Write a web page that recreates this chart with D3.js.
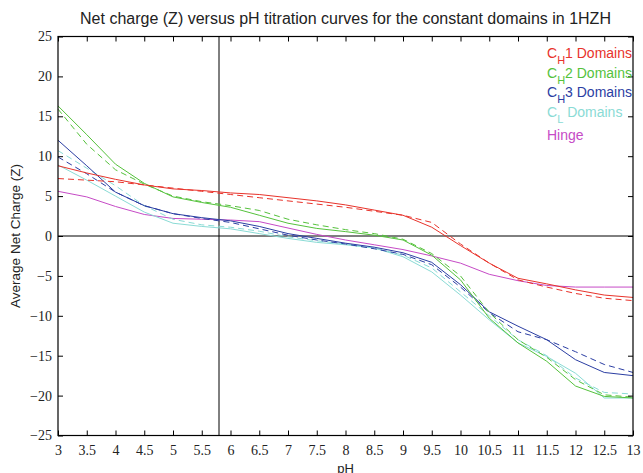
<!DOCTYPE html>
<html>
<head>
<meta charset="utf-8">
<script src="https://cdnjs.cloudflare.com/ajax/libs/d3/7.8.5/d3.min.js"></script>
<style>
body { margin: 0; background: #fff; }
</style>
</head>
<body>
<div id="graph"></div>
<script>
// pH values the titration was sampled at
var pH = [3, 3.5, 4, 4.5, 5, 5.5, 6, 6.5, 7, 7.5, 8, 8.5, 9, 9.5, 10, 10.5, 11, 11.5, 12, 12.5, 13];

// net charge, solid = first copy, dashed = second copy
var ch1 = [8.8, 7.9, 7.1, 6.4, 5.9, 5.7, 5.4, 5.2, 4.8, 4.4, 3.9, 3.25, 2.6, 1.1, -1.2, -3.4, -5.3, -6.0, -6.75, -7.4, -7.7];
var ch1b = [7.2, 7.0, 6.8, 6.4, 6.0, 5.6, 5.2, 4.8, 4.4, 4.0, 3.6, 3.1, 2.6, 1.7, -1.0, -3.4, -5.5, -6.4, -7.2, -7.8, -8.1];
var ch2 = [16.3, 12.7, 9.0, 6.6, 4.9, 4.2, 3.6, 2.6, 1.6, 0.95, 0.55, 0.1, -0.5, -2.4, -5.5, -10.3, -13.4, -15.7, -18.8, -20.1, -20.3];
var ch2b = [15.9, 11.5, 8.3, 6.5, 5.0, 4.3, 3.8, 3.2, 2.1, 1.4, 0.8, 0.3, -0.4, -2.2, -5.0, -9.6, -13.0, -15.2, -18.0, -19.9, -20.2];
var ch3 = [12.0, 8.8, 5.5, 3.8, 2.8, 2.3, 1.9, 1.2, 0.3, -0.3, -0.9, -1.4, -2.1, -3.3, -6.1, -9.5, -11.3, -13.0, -15.5, -17.1, -17.5];
var ch3b = [9.9, 7.8, 5.5, 3.8, 2.8, 2.2, 1.7, 0.9, 0.1, -0.5, -1.0, -1.6, -2.3, -3.6, -6.4, -9.6, -12.0, -13.0, -14.5, -16.1, -17.1];
var cl = [8.9, 7.0, 5.0, 3.0, 1.6, 1.2, 0.9, 0.3, -0.3, -0.8, -1.1, -1.5, -2.6, -4.5, -7.4, -10.5, -13.4, -15.1, -17.2, -20.3, -20.3];
var clb = [10.7, 8.5, 6.3, 3.8, 2.1, 1.4, 1.1, 0.6, -0.1, -0.6, -1.0, -1.5, -2.4, -4.0, -7.0, -10.0, -13.0, -15.0, -17.8, -19.6, -19.8];
var hinge = [5.6, 4.9, 3.7, 2.7, 2.2, 2.1, 2.0, 1.8, 1.0, 0.2, -0.5, -1.1, -1.7, -2.5, -3.4, -4.8, -5.6, -6.2, -6.4, -6.4, -6.4];

var xTicks = [3, 3.5, 4, 4.5, 5, 5.5, 6, 6.5, 7, 7.5, 8, 8.5, 9, 9.5, 10, 10.5, 11, 11.5, 12, 12.5, 13];
var yTicks = [-25, -20, -15, -10, -5, 0, 5, 10, 15, 20, 25];
var pI = 5.8;

// legend entries: main text, subscript, trailing text
var legendMain = ['C', 'C', 'C', 'C', 'Hinge'];
var legendSub = ['H', 'H', 'H', 'L', ''];
var legendRest = ['1 Domains', '2 Domains', '3 Domains', ' Domains', ''];

var red = '#e8332b', green = '#55c23c', blue = '#2b3ea3', cyan = '#8adbd5', magenta = '#c64bc6';
var legendColors = [red, green, blue, cyan, magenta];

var width = 643;
var height = 473;

var series = [
    {v: hinge, c: magenta, dash: null},
    {v: clb, c: cyan, dash: '6,4'},
    {v: cl, c: cyan, dash: null},
    {v: ch3b, c: blue, dash: '6,4'},
    {v: ch3, c: blue, dash: null},
    {v: ch2b, c: green, dash: '6,4'},
    {v: ch2, c: green, dash: null},
    {v: ch1b, c: red, dash: '6,4'},
    {v: ch1, c: red, dash: null}
];

var svg = d3.select('#graph')
    .append('svg')
    .attr('width', width)
    .attr('height', height);

// note: "top" is taken by window.top, so the plot edges get their own names
var plotLeft = 58, plotRight = 633, plotTop = 36.5, plotBottom = 435.5;

var xScale = d3.scaleLinear().domain([3, 13]).range([plotLeft, plotRight]);
var yScale = d3.scaleLinear().domain([-25, 25]).range([plotBottom, plotTop]);

var serif = '"Liberation Serif", "Times New Roman", serif';
var sans = '"Liberation Sans", Arial, Helvetica, sans-serif';

// zero line and the pI marker
svg.append('line')
    .attr('x1', plotLeft).attr('x2', plotRight)
    .attr('y1', yScale(0)).attr('y2', yScale(0))
    .attr('stroke', '#000').attr('stroke-width', 1);
svg.append('line')
    .attr('x1', xScale(pI)).attr('x2', xScale(pI))
    .attr('y1', plotTop).attr('y2', plotBottom)
    .attr('stroke', '#000').attr('stroke-width', 1);

var line = d3.line()
    .x(function(d, i) { return xScale(pH[i]); })
    .y(function(d) { return yScale(d); });

svg.append('g')
    .selectAll('path')
    .data(series)
    .enter()
    .append('path')
    .attr('d', function(d) { return line(d.v); })
    .attr('fill', 'none')
    .attr('stroke', function(d) { return d.c; })
    .attr('stroke-width', 1)
    .attr('stroke-dasharray', function(d) { return d.dash; });

// box axes, ticks pointing inward on all four sides
function styleAxis(g) {
    g.select('.domain').remove();
    g.selectAll('.tick line').attr('stroke', '#000');
    g.selectAll('.tick text')
        .attr('font-family', serif)
        .attr('font-size', 14)
        .attr('fill', '#222');
}

svg.append('g')
    .attr('transform', 'translate(0,' + plotBottom + ')')
    .call(d3.axisBottom(xScale).tickValues(xTicks).tickSize(-5).tickPadding(10).tickFormat(d3.format('')))
    .call(styleAxis);
svg.append('g')
    .attr('transform', 'translate(0,' + plotTop + ')')
    .call(d3.axisTop(xScale).tickValues(xTicks).tickSize(-5).tickFormat(''))
    .call(styleAxis);
svg.append('g')
    .attr('transform', 'translate(' + plotLeft + ',0)')
    .call(d3.axisLeft(yScale).tickValues(yTicks).tickSize(-5).tickPadding(6)
        .tickFormat(function(d) { return d < 0 ? '\u2212' + Math.abs(d) : d; }))
    .call(styleAxis);
svg.append('g')
    .attr('transform', 'translate(' + plotRight + ',0)')
    .call(d3.axisRight(yScale).tickValues(yTicks).tickSize(-5).tickFormat(''))
    .call(styleAxis);

svg.append('rect')
    .attr('x', plotLeft).attr('y', plotTop)
    .attr('width', plotRight - plotLeft).attr('height', plotBottom - plotTop)
    .attr('fill', 'none')
    .attr('stroke', '#000')
    .attr('stroke-width', 1.2);

// titles
svg.append('text')
    .attr('x', (plotLeft + plotRight) / 2)
    .attr('y', 24)
    .attr('text-anchor', 'middle')
    .attr('font-family', sans)
    .attr('font-size', 16)
    .attr('fill', '#222')
    .text('Net charge (Z) versus pH titration curves for the constant domains in 1HZH');

svg.append('text')
    .attr('x', (plotLeft + plotRight) / 2)
    .attr('y', 473)
    .attr('text-anchor', 'middle')
    .attr('font-family', sans)
    .attr('font-size', 13)
    .attr('fill', '#222')
    .text('pH');

svg.append('text')
    .attr('transform', 'translate(20,' + yScale(0) + ') rotate(-90)')
    .attr('text-anchor', 'middle')
    .attr('font-family', sans)
    .attr('font-size', 13.5)
    .attr('fill', '#222')
    .text('Average Net Charge (Z)');

// legend, coloured text only
var legendY = [58, 78, 97, 117, 140];
var legend = svg.append('g');
legendMain.forEach(function(m, i) {
    var t = legend.append('text')
        .attr('x', 547)
        .attr('y', legendY[i])
        .attr('font-family', sans)
        .attr('font-size', 14)
        .attr('fill', legendColors[i]);
    t.append('tspan').text(m);
    if (legendSub[i]) {
        t.append('tspan').attr('dy', 6).attr('font-size', 11).text(legendSub[i]);
        t.append('tspan').attr('dy', -6).text(legendRest[i]);
    }
});
</script>
</body>
</html>
